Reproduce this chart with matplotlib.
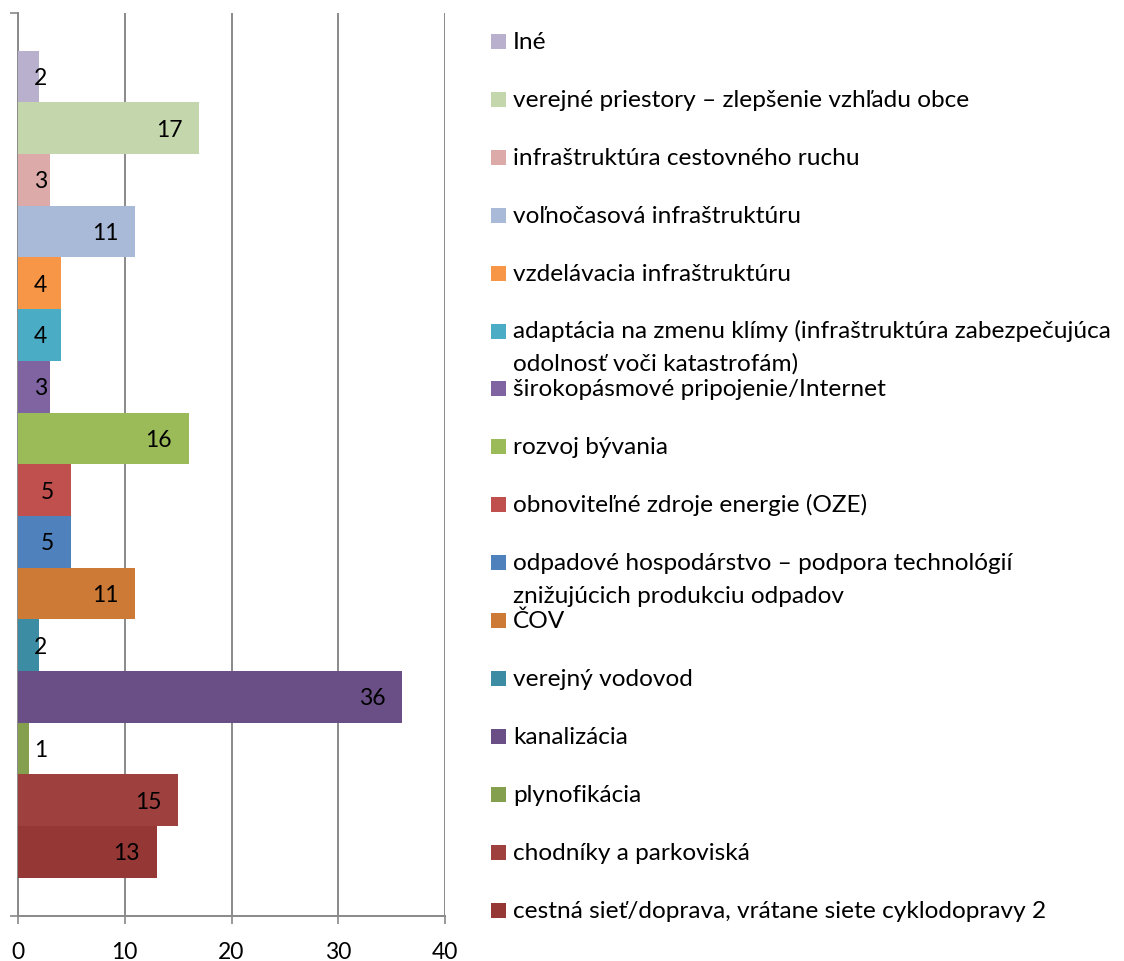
import matplotlib
matplotlib.use('Agg')
import matplotlib.pyplot as plt
from matplotlib.patches import Rectangle

# bottom to top
categories = [
    "cestná sieť/doprava, vrátane siete cyklodopravy 2",
    "chodníky a parkoviská",
    "plynofikácia",
    "kanalizácia",
    "verejný vodovod",
    "ČOV",
    "odpadové hospodárstvo – podpora technológií\nznižujúcich produkciu odpadov",
    "obnoviteľné zdroje energie (OZE)",
    "rozvoj bývania",
    "širokopásmové pripojenie/Internet",
    "adaptácia na zmenu klímy (infraštruktúra zabezpečujúca\nodolnosť voči katastrofám)",
    "vzdelávacia infraštruktúru",
    "voľnočasová infraštruktúru",
    "infraštruktúra cestovného ruchu",
    "verejné priestory – zlepšenie vzhľadu obce",
    "Iné",
]
values = [13, 15, 1, 36, 2, 11, 5, 5, 16, 3, 4, 4, 11, 3, 17, 2]
colors = ["#953735", "#9E413E", "#84A04E", "#694F85", "#3C8DA3", "#CD7A37",
          "#4F81BD", "#C0504D", "#9BBB59", "#8064A2", "#4BACC6", "#F79646",
          "#A9B9D8", "#DBAAA9", "#C4D6AC", "#B8B0CD"]
xticks = [0, 10, 20, 30, 40]

plt.rcParams['font.family'] = ['Lato', 'DejaVu Sans']
W, H = 1124, 961
fig = plt.figure(figsize=(W / 100, H / 100), dpi=100)
fig.patch.set_facecolor('white')

ax_left, ax_right, ax_top, ax_bottom = 18, 445, 12.7, 915.7
ax = fig.add_axes([ax_left / W, 1 - ax_bottom / H, (ax_right - ax_left) / W, (ax_bottom - ax_top) / H])

n = len(values)
ypos = list(range(n))
ax.barh(ypos, values, height=1.0, color=colors, linewidth=0, zorder=3)
gap = 0.735
ylo, yhi = -0.5 - gap, n - 0.5 + gap
ax.set_xlim(xticks[0], xticks[-1])
ax.set_ylim(ylo, yhi)

grid_c = '#898989'
ax.set_xticks(xticks)
ax.set_xticklabels([str(t) for t in xticks])
ax.xaxis.grid(True, color=grid_c, linewidth=1.4)
ax.set_axisbelow(True)
ax.tick_params(axis='x', length=6, width=1.2, color=grid_c, labelsize=16.5, pad=13, direction='out')
ax.set_yticks([ylo, yhi])
ax.set_yticklabels(['', ''])
ax.tick_params(axis='y', length=6, width=1.2, color=grid_c, direction='out')
for s in ['top', 'right']:
    ax.spines[s].set_visible(False)
for s in ['left', 'bottom']:
    ax.spines[s].set_color(grid_c)
    ax.spines[s].set_linewidth(1.4)

px_per_unit = (ax_right - ax_left) / (xticks[-1] - xticks[0])
for i, v in enumerate(values):
    est_w = 12 * len(str(v))
    if v * px_per_unit - 17 - est_w < 16:
        ax.annotate(str(v), xy=(0, i), xytext=(16, 0), textcoords='offset pixels',
                    ha='left', va='center_baseline', fontsize=16.5, color='black', zorder=5)
    else:
        ax.annotate(str(v), xy=(v, i), xytext=(-17, 0), textcoords='offset pixels',
                    ha='right', va='center_baseline', fontsize=16.5, color='black', zorder=5)

# legend (top entry = last category)
row0, step = 41.5, 57.9
sq_x, sq_w, sq_h = 491, 15, 15
txt_x = 513
line_px = 32.5
for k, idx in enumerate(reversed(range(n))):
    yc = row0 + k * step
    fig.patches.append(Rectangle((sq_x / W, 1 - (yc + sq_h / 2) / H), sq_w / W, sq_h / H,
                                 transform=fig.transFigure, facecolor=colors[idx],
                                 edgecolor='none'))
    for j, line in enumerate(categories[idx].split('\n')):
        fig.text(txt_x / W, 1 - (yc + 7.5 + j * line_px) / H, line, fontsize=17.6,
                 ha='left', va='baseline', color='black')

fig.savefig('out.png', dpi=100)
